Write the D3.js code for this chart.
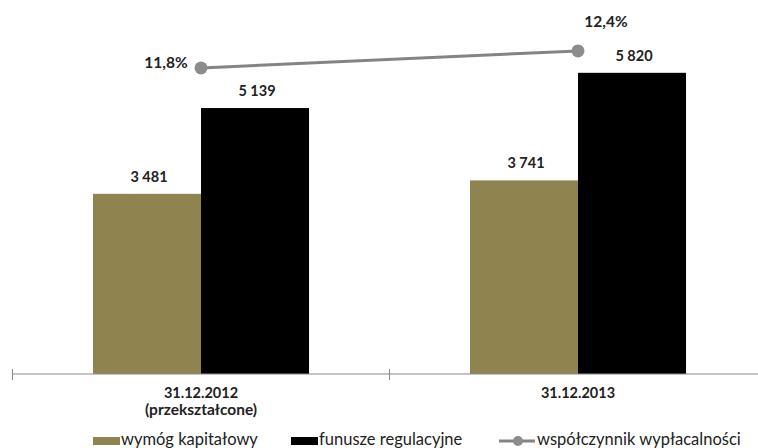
<!DOCTYPE html>
<html><head><meta charset="utf-8">
<script src="https://cdn.jsdelivr.net/npm/d3@7"></script>
<style>
body{margin:0;background:#fff;}
text{font-family:Lato,"Open Sans",sans-serif;}
</style></head>
<body><svg id="c" width="758" height="448"></svg>
<script>
const categories = [["31.12.2012","(przekształcone)"],["31.12.2013"]];
const seriesNames = ["wymóg kapitałowy","funusze regulacyjne"];
const capitalReq = [3481, 3741];
const regFunds = [5139, 5820];
const solvency = [11.8, 12.4];
const lineName = "współczynnik wypłacalności";
const valueLabels = [["3 481","5 139"],["3 741","5 820"]];
const ratioLabels = ["11,8%","12,4%"];

const colors = ["#8f8350","#000000"];
const lineColor = "#848484";

const svg = d3.select("#c");
const baseY = 374;
const x0 = d3.scaleBand().domain(d3.range(categories.length)).range([12.5, 766.5]).paddingInner(0).paddingOuter(0);
const x1 = d3.scaleBand().domain(d3.range(seriesNames.length)).range([0, x0.bandwidth()]).paddingInner(0).paddingOuter(0.745);
const y = d3.scaleLinear().domain([0, 7000]).range([baseY, baseY - 7000*0.05175]);
const y2 = d3.scaleLinear().domain([0, 14]).range([402.3, 5.6]);

const series = [capitalReq, regFunds];
// bars
categories.forEach((c, i) => {
  series.forEach((s, j) => {
    const bx = x0(i) + x1(j);
    svg.append("rect").attr("x", bx).attr("y", y(s[i])).attr("width", x1.bandwidth()).attr("height", y(0) - y(s[i])).attr("fill", colors[j]);
    svg.append("text").attr("x", bx + x1.bandwidth()/2 + 2).attr("y", y(s[i]) - 12)
      .attr("text-anchor","middle").attr("font-size", 14.5).attr("font-weight","bold").attr("fill","#222")
      .text(valueLabels[i][j]);
  });
});

// axis
const axis = d3.axisBottom(x0).tickSize(0).tickFormat("");
const ax = svg.append("g").attr("transform", `translate(0,${baseY})`).call(axis);
ax.select(".domain").attr("stroke","#8a8a8a").attr("d", `M12.5,0H758`);
const tickPos = d3.range(categories.length + 1).map(k => x0.range()[0] + k*x0.step());
tickPos.forEach(t => {
  svg.append("line").attr("x1", t).attr("x2", t).attr("y1", baseY - 5).attr("y2", baseY + 6).attr("stroke","#8a8a8a");
});
categories.forEach((c, i) => {
  const t = svg.append("text").attr("x", x0(i) + x0.bandwidth()/2).attr("y", 398)
    .attr("text-anchor","middle").attr("font-size", 14.5).attr("font-weight","bold").attr("fill","#222");
  c.forEach((line, k) => t.append("tspan").attr("x", x0(i) + x0.bandwidth()/2).attr("dy", k ? 17 : 0)
    .attr("font-size", k ? 15.5 : 14.5).text(line));
});

// line
const cx = i => x0(i) + x0.bandwidth()/2;
svg.append("path").datum(solvency).attr("fill","none").attr("stroke", lineColor).attr("stroke-width", 3)
  .attr("d", d3.line().x((d,i) => cx(i)).y(d => y2(d)));
solvency.forEach((v, i) => {
  svg.append("circle").attr("cx", cx(i)).attr("cy", y2(v)).attr("r", 6.5).attr("fill", "#8c8c8c");
});
svg.append("text").attr("x", cx(0) - 35).attr("y", y2(solvency[0]) + 0).attr("text-anchor","middle")
  .attr("font-size", 15.5).attr("font-weight","bold").attr("fill","#222").text(ratioLabels[0]);
svg.append("text").attr("x", cx(1) + 28).attr("y", y2(solvency[1]) - 24).attr("text-anchor","middle")
  .attr("font-size", 15.5).attr("font-weight","bold").attr("fill","#222").text(ratioLabels[1]);

// legend
const lg = svg.append("g").attr("font-size", 16.5).attr("fill","#222");
const legX = [93, 291];
seriesNames.forEach((n, j) => {
  lg.append("rect").attr("x", legX[j]).attr("y", 437).attr("width", 27).attr("height", 8).attr("fill", colors[j]);
  lg.append("text").attr("x", legX[j] + 28).attr("y", 445).text(n);
});
lg.append("line").attr("x1", 499).attr("x2", 535).attr("y1", 441).attr("y2", 441).attr("stroke", lineColor).attr("stroke-width", 3);
lg.append("circle").attr("cx", 518).attr("cy", 441).attr("r", 5).attr("fill", "#8c8c8c");
lg.append("text").attr("x", 537).attr("y", 445).text(lineName);
</script></body></html>
